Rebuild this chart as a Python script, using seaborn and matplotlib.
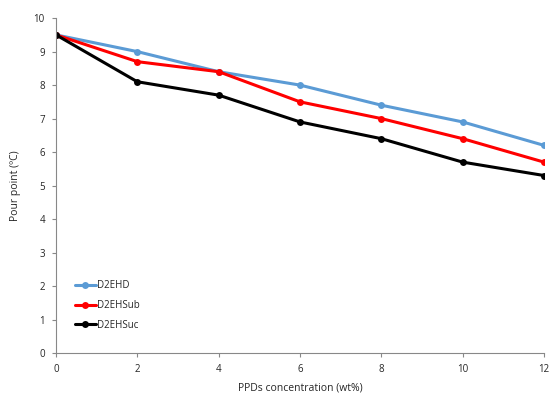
import numpy as np
import pandas as pd
import matplotlib
matplotlib.use("Agg")
import matplotlib.pyplot as plt
import seaborn as sns

conc = [0, 2, 4, 6, 8, 10, 12]
d2ehd = [9.5, 9.0, 8.4, 8.0, 7.4, 6.9, 6.2]
d2ehsub = [9.5, 8.7, 8.4, 7.5, 7.0, 6.4, 5.7]
d2ehsuc = [9.5, 8.1, 7.7, 6.9, 6.4, 5.7, 5.3]

series = ['D2EHD', 'D2EHSub', 'D2EHSuc']
colors = {'D2EHD': '#5b9bd5', 'D2EHSub': '#ff0000', 'D2EHSuc': '#000000'}

df = pd.DataFrame({'conc': conc, 'D2EHD': d2ehd, 'D2EHSub': d2ehsub, 'D2EHSuc': d2ehsuc})
df = df.melt(id_vars='conc', var_name='series', value_name='pour')

sns.set_style('white')
plt.rcParams['font.family'] = ['Open Sans', 'DejaVu Sans']

fig = plt.figure(figsize=(5.49, 3.94), dpi=100)
ax = fig.add_axes([0.102, 0.104, 0.889, 0.850])

sns.lineplot(data=df, x='conc', y='pour', hue='series', hue_order=series,
             palette=colors, marker='o', markersize=5, markeredgewidth=0,
             linewidth=2.2, ax=ax)

ax.set_xlim(0, 12)
ax.set_ylim(0, 10)
ax.set_xticks(range(0, 13, 2))
ax.set_yticks(range(0, 11))
ax.tick_params(axis='both', labelsize=7, direction='out', length=3, width=0.8,
               color='#888888', bottom=True, left=True, pad=5)
for s in ['top', 'right']:
    ax.spines[s].set_visible(False)
for s in ['left', 'bottom']:
    ax.spines[s].set_color('#888888')
    ax.spines[s].set_linewidth(0.8)

ax.set_xlabel('PPDs concentration (wt%)', fontsize=7.5, labelpad=5)
ax.set_ylabel('Pour point (ºC)', fontsize=7.5, labelpad=9)

leg = ax.legend(loc='lower left', bbox_to_anchor=(0.02, 0.04), frameon=False,
                fontsize=7, handlelength=2.2, handletextpad=0.1, labelspacing=0.9)

fig.savefig('out.png', dpi=100)
